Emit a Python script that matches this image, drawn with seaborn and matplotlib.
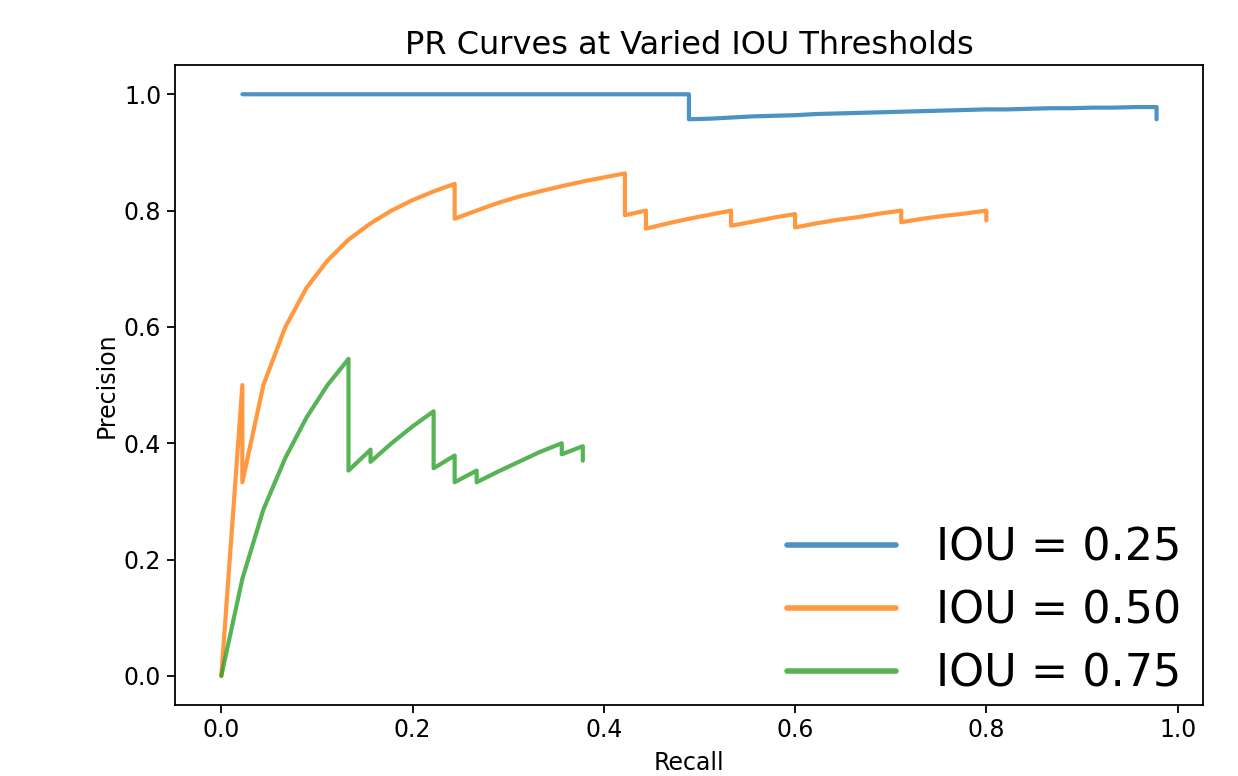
import pandas as pd
import numpy as np
import matplotlib
matplotlib.use("Agg")
from matplotlib import pyplot as plt
import seaborn as sns

# PR curve points
recall_25 = [0.022, 0.489, 0.489, 0.511, 0.533, 0.556, 0.578, 0.600, 0.622, 0.644, 0.667,
             0.689, 0.711, 0.733, 0.756, 0.778, 0.800, 0.822, 0.844, 0.867, 0.889, 0.911,
             0.933, 0.956, 0.978, 0.978]
precision_25 = [1.000, 1.000, 0.957, 0.958, 0.960, 0.962, 0.963, 0.964, 0.966, 0.967, 0.968,
                0.969, 0.970, 0.971, 0.972, 0.973, 0.974, 0.974, 0.975, 0.976, 0.976, 0.977,
                0.977, 0.978, 0.978, 0.957]

recall_50 = [0.000, 0.022, 0.022, 0.044, 0.067, 0.089, 0.111, 0.133, 0.156, 0.178, 0.200,
             0.222, 0.244, 0.244, 0.267, 0.289, 0.311, 0.333, 0.356, 0.378, 0.400, 0.422,
             0.422, 0.444, 0.444, 0.467, 0.489, 0.511, 0.533, 0.533, 0.556, 0.578, 0.600,
             0.600, 0.622, 0.644, 0.667, 0.689, 0.711, 0.711, 0.733, 0.756, 0.778, 0.800,
             0.800]
precision_50 = [0.000, 0.500, 0.333, 0.500, 0.600, 0.667, 0.714, 0.750, 0.778, 0.800, 0.818,
                0.833, 0.846, 0.786, 0.800, 0.813, 0.824, 0.833, 0.842, 0.850, 0.857, 0.864,
                0.792, 0.800, 0.769, 0.778, 0.786, 0.793, 0.800, 0.774, 0.781, 0.788, 0.794,
                0.771, 0.778, 0.784, 0.789, 0.795, 0.800, 0.780, 0.786, 0.791, 0.795, 0.800,
                0.783]

recall_75 = [0.000, 0.022, 0.044, 0.067, 0.089, 0.111, 0.133, 0.133, 0.156, 0.156, 0.178,
             0.200, 0.222, 0.222, 0.244, 0.244, 0.267, 0.267, 0.289, 0.311, 0.333, 0.356,
             0.356, 0.378, 0.378]
precision_75 = [0.000, 0.167, 0.286, 0.375, 0.444, 0.500, 0.545, 0.353, 0.389, 0.368, 0.400,
                0.429, 0.455, 0.357, 0.379, 0.333, 0.353, 0.333, 0.351, 0.368, 0.385, 0.400,
                0.381, 0.395, 0.370]

labels = ["IOU = 0.25", "IOU = 0.50", "IOU = 0.75"]

frames = []
for lab, r, p in zip(labels, [recall_25, recall_50, recall_75],
                     [precision_25, precision_50, precision_75]):
    frames.append(pd.DataFrame({"Recall": r, "Precision": p, "curve": lab}))
df = pd.concat(frames, ignore_index=True)

sns.set_style("ticks")
plt.rcParams['font.family'] = ['DejaVu Sans']
plt.rcParams['text.color'] = 'black'
plt.rcParams['axes.labelcolor'] = 'black'
plt.rcParams['xtick.color'] = 'black'
plt.rcParams['ytick.color'] = 'black'

fig = plt.figure(figsize=(12.38, 7.76), dpi=100)
ax = fig.add_axes([0.141, 0.0915, 0.831, 0.8245])

sns.lineplot(data=df, x="Recall", y="Precision", hue="curve", hue_order=labels,
             palette=["#1f77b4", "#ff7f0e", "#2ca02c"], sort=False, estimator=None,
             linewidth=3, alpha=0.8, ax=ax)

ax.set_title("PR Curves at Varied IOU Thresholds", fontsize=23, pad=8)
ax.set_xlabel("Recall", fontsize=17, labelpad=6)
ax.set_ylabel("Precision", fontsize=17)
ax.tick_params(labelsize=17, length=6, width=1.3, direction="out")
for s in ax.spines.values():
    s.set_visible(True)
    s.set_linewidth(1.3)
    s.set_color("black")
ax.set_yticks([0.0, 0.2, 0.4, 0.6, 0.8, 1.0])
ax.set_xticks([0.0, 0.2, 0.4, 0.6, 0.8, 1.0])

leg = ax.legend(loc="lower right", fontsize=32, frameon=False, handlelength=2.45,
                handletextpad=0.9, labelspacing=0.45, borderaxespad=0.1,
                bbox_to_anchor=(1.0, -0.02))
for h in leg.get_lines():
    h.set_linewidth(4)

fig.savefig("out.png", dpi=100)
